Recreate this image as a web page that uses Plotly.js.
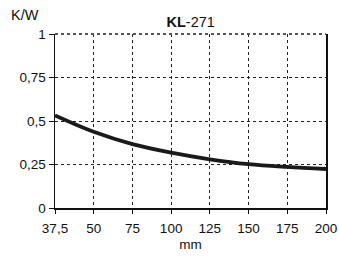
<!DOCTYPE html>
<html>
<head>
<meta charset="utf-8">
<script src="https://cdn.plot.ly/plotly-3.0.1.min.js"></script>
<style>html,body{margin:0;padding:0;background:#fff}#chart{width:339px;height:262px}</style>
</head>
<body>
<div id="chart"></div>
<script>
const xLabels = ["37,5", "50", "75", "100", "125", "150", "175", "200"];
const xPositions = [0, 1, 2, 3, 4, 5, 6, 7];
const resistance = [0.532, 0.438, 0.367, 0.318, 0.280, 0.252, 0.236, 0.224];
const yTickVals = [0, 0.25, 0.5, 0.75, 1];
const yTickText = ["0", "0,25", "0,5", "0,75", "1"];

const font = {family: "Liberation Sans, Arial, sans-serif", size: 13.5, color: "#111"};

Plotly.newPlot("chart", [{
  x: xPositions,
  y: resistance,
  mode: "lines",
  line: {color: "#1a1a1a", width: 3.8, shape: "spline", smoothing: 1},
  hoverinfo: "skip"
}], {
  width: 339, height: 262,
  margin: {l: 55, r: 13, t: 34, b: 54},
  paper_bgcolor: "#fff", plot_bgcolor: "#fff",
  showlegend: false,
  font: font,
  title: {text: "<b>KL</b>-271", x: 0.5625, xanchor: "center", y: 0.915, yanchor: "middle", font: {family: font.family, size: 14.5, color: "#111"}},
  xaxis: {
    range: [0, 7], tickvals: xPositions, ticktext: xLabels,
    showline: true, linecolor: "#111", linewidth: 1.5,
    ticks: "outside", ticklen: 4, tickcolor: "#111",
    ticklabelstandoff: 3,
    showgrid: true, gridcolor: "#222", griddash: "dot", gridwidth: 1,
    zeroline: false, tickfont: font,
    title: {text: "mm", font: font, standoff: 5}
  },
  yaxis: {
    range: [0, 1], tickvals: yTickVals, ticktext: yTickText,
    showline: true, mirror: true, linecolor: "#111", linewidth: 1.5,
    ticks: "outside", ticklen: 5, tickcolor: "#111",
    ticklabelstandoff: 0,
    showgrid: true, gridcolor: "#222", griddash: "dot", gridwidth: 1,
    zeroline: false, tickfont: font
  },
  annotations: [{
    text: "K/W", xref: "paper", yref: "paper", x: -0.11, y: 1.112,
    xanchor: "center", yanchor: "middle", showarrow: false,
    font: {family: font.family, size: 14.5, color: "#111"}
  }],
  shapes: [{
    type: "line", xref: "paper", yref: "paper", x0: 0, x1: 1, y0: 1, y1: 1,
    line: {color: "#555", width: 2, dash: "dot"}
  }]
}, {staticPlot: true, displayModeBar: false});
</script>
</body>
</html>
